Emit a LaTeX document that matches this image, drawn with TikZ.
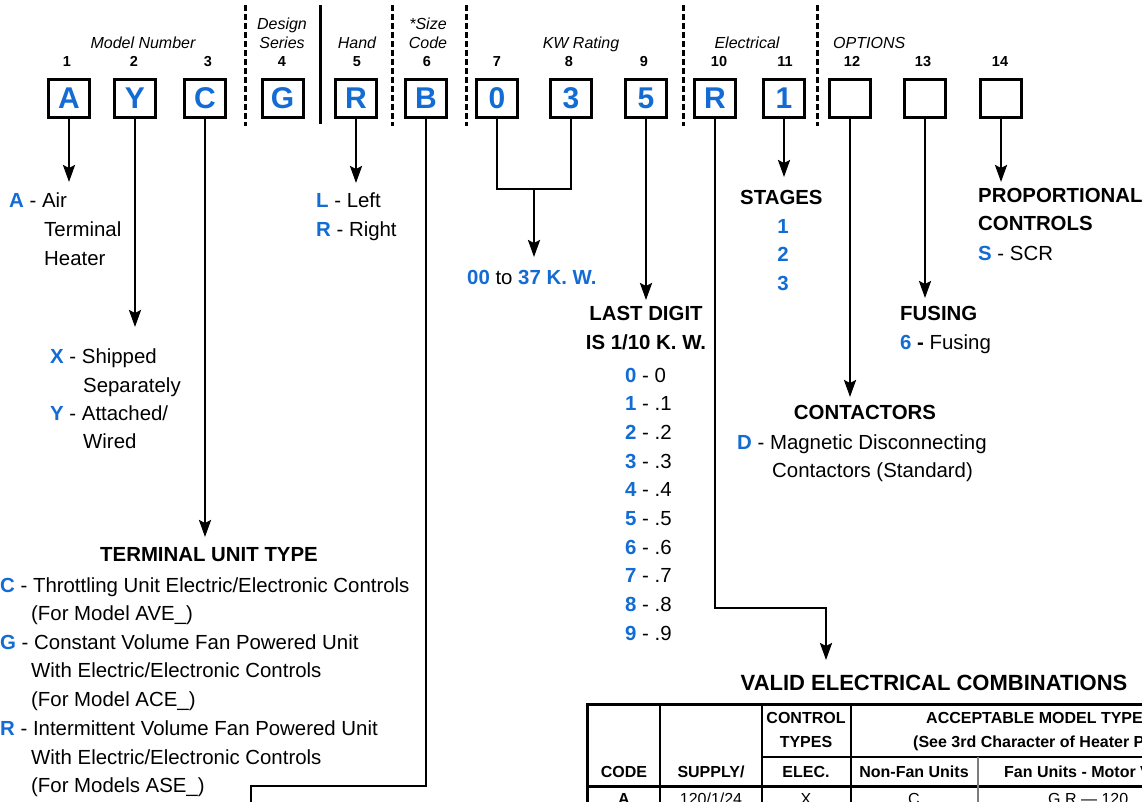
\documentclass[tikz,border=0pt]{standalone}
\usepackage{fontspec}
\setmainfont{Liberation Sans}
\usetikzlibrary{arrows.meta}
\definecolor{codeblue}{RGB}{18,108,212}
\definecolor{gridgray}{RGB}{125,125,125}
\newcommand{\blu}[1]{\textcolor{codeblue}{\bfseries #1}}
\begin{document}
\begin{tikzpicture}[x=1pt,y=-1pt,
  cbox/.style={draw, line width=3pt, minimum width=41pt, minimum height=38pt, inner sep=0pt, font=\fontsize{30}{30}\selectfont\bfseries, text=codeblue},
  lbl/.style={font=\fontsize{16}{18}\selectfont\itshape, inner sep=0pt, anchor=base},
  num/.style={font=\fontsize{14.5}{16}\selectfont\bfseries, inner sep=0pt, anchor=base},
  txt/.style={font=\fontsize{20.4}{24}\selectfont, inner sep=0pt, anchor=base west},
  head/.style={font=\fontsize{20.4}{24}\selectfont\bfseries, inner sep=0pt, anchor=base},
  headw/.style={head, anchor=base west},
  conn/.style={line width=2.5pt},
  arr/.style={conn, -{Stealth[length=17pt,width=12pt,inset=3pt]}},
  dsep/.style={line width=3pt, dash pattern=on 6pt off 3pt},
  ssep/.style={line width=3pt},
  tb/.style={font=\fontsize{16}{18}\selectfont\bfseries, inner sep=0pt, anchor=base},
  tr/.style={font=\fontsize{16}{18}\selectfont, inner sep=0pt, anchor=base},
  outerln/.style={line width=3pt},
  innerln/.style={line width=2.2pt},
]
\useasboundingbox (0,0) rectangle (1142,801);
\fill[white] (0,0) rectangle (1142,801);
\clip (0,0) rectangle (1142,801);

% ---------- header labels ----------
\node[lbl] (hmodel) at (143,48) {Model Number};
\node[lbl] (hdes1) at (282,29) {Design};
\node[lbl] (hdes2) at (282,48) {Series};
\node[lbl] (hhand) at (357,48) {Hand};
\node[lbl] (hsize1) at (428,29) {*Size};
\node[lbl] (hsize2) at (428,48) {Code};
\node[lbl] (hkw) at (581,48) {KW Rating};
\node[lbl] (helec) at (747,48) {Electrical};
\node[lbl, anchor=base west] (hopt) at (833,48) {OPTIONS};

\foreach \i/\x in {1/67,2/134,3/208,4/282,5/357,6/427,7/497,8/569,9/644,10/719,11/785,12/852,13/923,14/1000}
  \node[num] (n\i) at (\x,66) {\i};

% ---------- boxes ----------
\foreach \i/\x/\t in {1/69/A,2/135/Y,3/205/C,4/282.5/G,5/356/R,6/426/B,7/497/0,8/571/3,9/646/5,10/715/R,11/784/1,12/850/{},13/925/{},14/1001/{}}
  \node[cbox] (b\i) at (\x,98.5) {\t};

% ---------- separators ----------
\draw[dsep] (245,5) -- (245,126);
\draw[ssep] (320,5) -- (320,124);
\draw[dsep] (392,5) -- (392,126);
\draw[dsep] (466,5) -- (466,126);
\draw[dsep] (683,5) -- (683,126);
\draw[dsep] (817,5) -- (817,126);

% ---------- connector end points ----------
\coordinate (t1) at (69,182);
\coordinate (t2) at (135,327);
\coordinate (t3) at (205,537);
\coordinate (t5) at (356,183);
\coordinate (bB1) at (426,786);
\coordinate (bB2) at (251,786);
\coordinate (bB3) at (251,815);
\coordinate (k7) at (497,189);
\coordinate (k8) at (571,189);
\coordinate (kmid) at (534,189);
\coordinate (t78) at (534,257);
\coordinate (t9) at (646,300);
\coordinate (r1) at (715,608);
\coordinate (r2) at (826,608);
\coordinate (t10) at (826,660);
\coordinate (t11) at (784,177);
\coordinate (t12) at (850,397);
\coordinate (t13) at (925,298);
\coordinate (t14) at (1001,182);

\draw[arr] (b1.south) -- (t1);
\draw[arr] (b2.south) -- (t2);
\draw[arr] (b3.south) -- (t3);
\draw[arr] (b5.south) -- (t5);
\draw[conn] (b6.south) -- (bB1) -- (bB2) -- (bB3);
\draw[conn] (b7.south) -- (k7) -- (k8) -- (b8.south);
\draw[arr] (kmid) -- (t78);
\draw[arr] (b9.south) -- (t9);
\draw[arr] (b10.south) -- (r1) -- (r2) -- (t10);
\draw[arr] (b11.south) -- (t11);
\draw[arr] (b12.south) -- (t12);
\draw[arr] (b13.south) -- (t13);
\draw[arr] (b14.south) -- (t14);

% ---------- texts ----------
\node[txt] (tA) at (9,207) {\blu{A} - Air};
\node[txt] (tA2) at (44,236) {Terminal};
\node[txt] (tA3) at (44,265) {Heater};
\node[txt] (tL) at (316,207) {\blu{L} - Left};
\node[txt] (tR) at (316,236) {\blu{R} - Right};
\node[txt] (tX) at (50,363) {\blu{X} - Shipped};
\node[txt] (tX2) at (83,392) {Separately};
\node[txt] (tY) at (50,420) {\blu{Y} - Attached/};
\node[txt] (tY2) at (83,448) {Wired};

\node[head] (tTU) at (209,561) {TERMINAL UNIT TYPE};
\node[txt] (tC) at (0,592) {\blu{C} - Throttling Unit Electric/Electronic Controls};
\node[txt] (tC2) at (31,620) {(For Model AVE\_)};
\node[txt] (tG) at (0,649) {\blu{G} - Constant Volume Fan Powered Unit};
\node[txt] (tG2) at (31,677) {With Electric/Electronic Controls};
\node[txt] (tG3) at (31,706) {(For Model ACE\_)};
\node[txt] (tRR) at (0,735) {\blu{R} - Intermittent Volume Fan Powered Unit};
\node[txt] (tRR2) at (31,764) {With Electric/Electronic Controls};
\node[txt] (tRR3) at (31,792) {(For Models ASE\_)};

\node[txt] (tkw) at (467,284) {\blu{00} to \blu{37 K. W.}};
\node[head] (tld1) at (646,320) {LAST DIGIT};
\node[head] (tld2) at (646,349) {IS 1/10 K. W.};
\foreach \d/\v [count=\k from 0] in {0/0,1/.1,2/.2,3/.3,4/.4,5/.5,6/.6,7/.7,8/.8,9/.9}
  \node[txt] (tdig\d) at (625,{382+28.7*\k}) {\blu{\d} - \v};

\node[headw] (tst) at (740,204) {STAGES};
\node[head, text=codeblue] (ts1) at (783,233) {1};
\node[head, text=codeblue] (ts2) at (783,261) {2};
\node[head, text=codeblue] (ts3) at (783,290) {3};

\node[head] (tcon) at (865,419) {CONTACTORS};
\node[txt] (tD) at (737,449) {\blu{D} - Magnetic Disconnecting};
\node[txt] (tD2) at (772,477) {Contactors (Standard)};

\node[headw] (tfus) at (900,320) {FUSING};
\node[txt] (tfus2) at (900,349) {\blu{6} \textbf{-} Fusing};

\node[headw] (tpr1) at (978,202) {PROPORTIONAL};
\node[headw] (tpr2) at (978,230) {CONTROLS};
\node[txt] (tpr3) at (978,260) {\blu{S} - SCR};

% ---------- table ----------
\node[head, font=\fontsize{22}{24}\selectfont\bfseries] (tvalid) at (934,690) {VALID ELECTRICAL COMBINATIONS};
\draw[outerln] (587,815) -- (587,704) -- (1150,704);
\draw[outerln] (587,786) -- (1150,786);
\draw[innerln] (660,704) -- (660,815);
\draw[innerln] (762,704) -- (762,815);
\draw[innerln] (851,704) -- (851,815);
\draw[innerln] (762,757) -- (1150,757);
\draw[line width=1.3pt, gridgray] (978,757) -- (978,815);

\node[tb] (cctl) at (806,723) {CONTROL};
\node[tb] (ctyp) at (806,747) {TYPES};
\node[tb, anchor=base west] (cacc) at (926,723) {ACCEPTABLE MODEL TYPE};
\node[tb, anchor=base west] (csee) at (913,747) {(See 3rd Character of Heater P};
\node[tb] (ccode) at (624,777) {CODE};
\node[tb] (csup) at (711,777) {SUPPLY/};
\node[tb] (celec) at (806,777) {ELEC.};
\node[tb] (cnon) at (914,777) {Non-Fan Units};
\node[tb, anchor=base west] (cfan) at (1004,777) {Fan Units - Motor V};
\node[tb] (dA) at (624,804) {A};
\node[tr] (dsup) at (711,804) {120/1/24};
\node[tr] (dx) at (806,804) {X};
\node[tr] (dc) at (914,804) {C};
\node[tr, anchor=base west] (dgr) at (1048,804) {G,R — 120};
\end{tikzpicture}
\end{document}
